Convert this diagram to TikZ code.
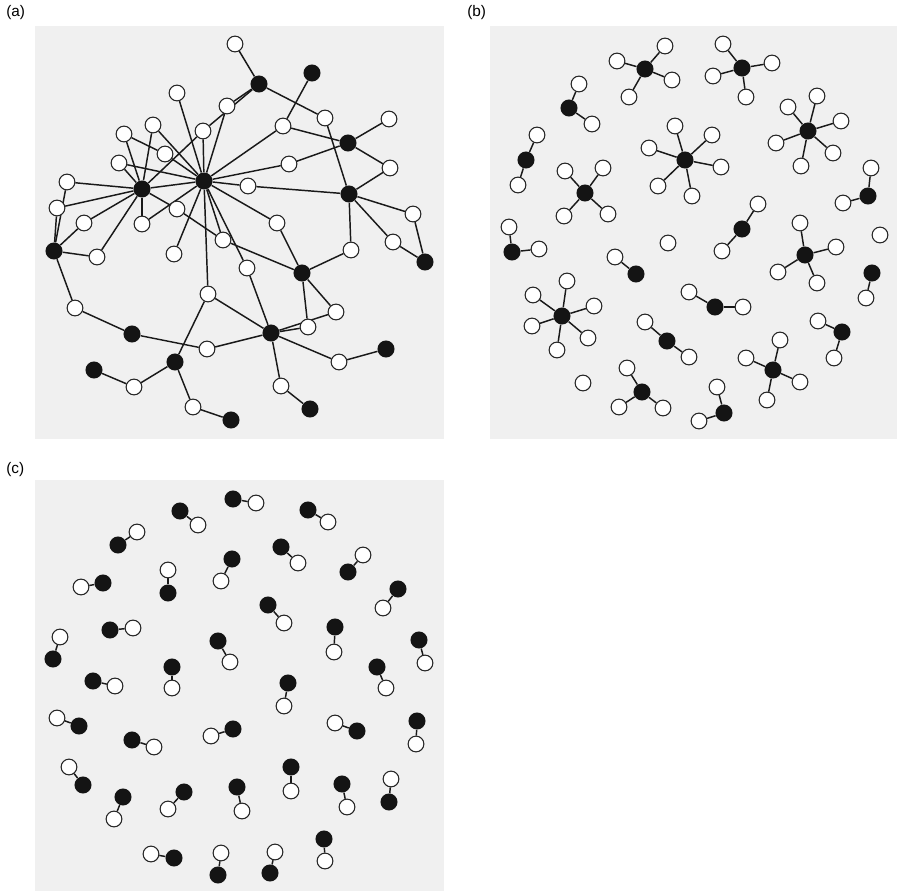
\documentclass[tikz,border=0pt]{standalone}
\usepackage{fontspec}
\setmainfont{Liberation Sans}
\definecolor{panelgray}{HTML}{F0F0F0}
\pgfdeclarelayer{bg}
\pgfdeclarelayer{edges}
\pgfsetlayers{bg,edges,main}
\newcommand\mol[3]{%
  \node[bn] (#3) at (#1) {};
  \foreach \p [count=\i] in {#2} {%
    \node[wn] (#3-\i) at (\p) {};
    \begin{pgfonlayer}{edges}\draw[edge] (#3) -- (#3-\i);\end{pgfonlayer}
  }%
}
\begin{document}
\begin{tikzpicture}[x=0.75pt,y=-0.75pt,
 wn/.style={circle,draw=black!85,line width=0.8pt,fill=white,minimum size=11.8pt,inner sep=0pt},
 bn/.style={circle,fill=black!92,minimum size=12.8pt,inner sep=0pt},
 edge/.style={line width=1.1pt,black!90},
 lab/.style={font=\fontsize{11.5}{13}\selectfont,anchor=west,inner sep=0pt}]
\useasboundingbox (0,0) rectangle (897,892);
\begin{pgfonlayer}{bg}
\fill[panelgray] (35,26) rectangle (444,439);
\fill[panelgray] (490,26) rectangle (897,439);
\fill[panelgray] (35,480) rectangle (444,891);
\end{pgfonlayer}
\node[lab] (la) at (6,13) {(a)};
\node[lab] (lb) at (467,13) {(b)};
\node[lab] (lc) at (6,470) {(c)};

% ---------- panel (a) ----------
\foreach \n/\x/\y in {1/235/44,4/177/93,5/227/106,6/153/125,7/124/134,8/203/131,9/283/126,10/325/118,
 11/389/119,13/165/154,14/119/163,15/289/164,16/390/168,19/67/182,20/248/186,22/57/208,23/177/209,
 24/84/223,25/142/224,26/413/214,27/277/223,28/223/240,29/393/242,31/97/257,32/174/254,33/351/250,
 35/247/268,37/208/294,38/75/308,39/336/312,40/308/327,43/207/349,45/339/362,48/134/387,49/281/386,50/193/407}
 {\node[wn] (a\n) at (\x,\y) {};}
\foreach \n/\x/\y in {2/259/84,3/312/73,12/348/143,17/204/181,18/142/189,21/349/194,30/54/251,34/425/262,
 36/302/273,41/271/333,42/132/334,44/386/349,46/175/362,47/94/370,51/310/409,52/231/420}
 {\node[bn] (a\n) at (\x,\y) {};}
\begin{pgfonlayer}{edges}
\foreach \u/\v in {1/2,2/5,2/8,2/10,3/9,9/12,9/17,11/12,12/16,12/15,15/17,10/21,16/21,20/21,17/20,
 21/26,21/33,21/29,26/34,29/34,4/17,8/17,8/18,5/17,6/18,6/17,7/18,7/13,13/17,14/18,14/17,19/18,22/18,
 24/18,25/18,23/18,23/28,25/17,17/18,31/18,32/17,35/17,28/17,28/36,27/17,27/36,33/36,39/36,40/36,35/41,
 40/41,39/41,45/41,49/41,43/41,37/41,37/17,37/46,44/45,51/49,46/48,46/50,50/52,47/48,42/43,42/38,
 38/30,30/31,30/24,30/22,30/19}
 {\draw[edge] (a\u) -- (a\v);}
\end{pgfonlayer}

% ---------- panel (b) ----------
\mol{645,69}{{665,46},{617,61},{672,80},{629,97}}{b1}
\mol{569,108}{{579,84},{592,124}}{b2}
\mol{742,68}{{723,44},{772,63},{713,76},{746,97}}{b3}
\mol{526,160}{{537,135},{518,185}}{b4}
\mol{585,193}{{565,171},{603,168},{564,216},{608,214}}{b5}
\mol{685,160}{{675,126},{649,148},{658,186},{692,196},{712,135},{721,167}}{b6}
\mol{808,131}{{817,96},{788,107},{841,121},{776,143},{833,153},{801,166}}{b7}
\mol{868,196}{{871,168},{843,203}}{b8}
\mol{742,229}{{758,204},{722,251}}{b9}
\mol{805,255}{{800,223},{836,247},{778,272},{817,283}}{b10}
\node[wn] (b11) at (880,235) {};
\mol{512,252}{{509,227},{539,249}}{b12}
\node[wn] (b13) at (668,243) {};
\mol{636,274}{{615,257}}{b14}
\mol{872,273}{{866,298}}{b15}
\mol{715,307}{{689,292},{743,307}}{b16}
\mol{562,316}{{567,281},{533,295},{594,306},{532,326},{588,338},{557,350}}{b17}
\mol{667,341}{{645,322},{689,357}}{b18}
\mol{842,332}{{818,321},{834,358}}{b19}
\mol{773,370}{{780,340},{746,358},{800,382},{767,400}}{b20}
\node[wn] (b21) at (583,383) {};
\mol{642,392}{{627,368},{619,407},{663,408}}{b22}
\mol{724,413}{{717,387},{699,421}}{b23}

% ---------- panel (c) ----------
\foreach \bx/\by/\wx/\wy [count=\k] in {180/511/198/525, 233/499/256/503, 308/510/328/522,
 118/545/137/532, 168/593/168/570, 232/559/221/581, 281/547/298/563, 348/572/363/555,
 103/583/81/587, 268/605/284/623, 398/589/383/608,
 53/659/60/637, 110/630/133/628, 218/641/230/662, 335/627/334/652, 419/640/425/663,
 172/667/172/688, 93/681/115/686, 288/683/284/706, 377/667/386/688,
 79/726/57/718, 132/740/154/747, 233/729/211/736, 357/731/335/723, 417/721/416/744,
 83/785/69/767, 123/797/114/819, 184/792/168/809, 237/787/242/811, 291/767/291/791, 342/784/347/807, 389/802/391/779,
 174/858/151/854, 218/875/221/853, 324/839/325/861, 270/873/275/852}
 {\mol{\bx,\by}{{\wx,\wy}}{c\k}}
\end{tikzpicture}
\end{document}
